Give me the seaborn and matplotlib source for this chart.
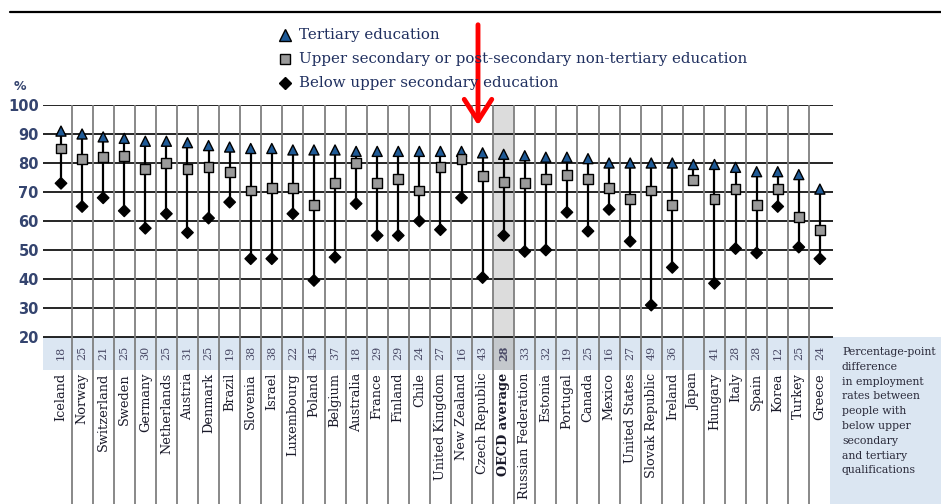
import numpy as np
import pandas as pd
import matplotlib.pyplot as plt
import seaborn as sns
from matplotlib.lines import Line2D
from matplotlib.patches import Rectangle

# Данные: уровень занятости по уровню образования (%)
countries = ['Iceland', 'Norway', 'Switzerland', 'Sweden', 'Germany', 'Netherlands',
             'Austria', 'Denmark', 'Brazil', 'Slovenia', 'Israel', 'Luxembourg',
             'Poland', 'Belgium', 'Australia', 'France', 'Finland', 'Chile',
             'United Kingdom', 'New Zealand', 'Czech Republic', 'OECD average',
             'Russian Federation', 'Estonia', 'Portugal', 'Canada', 'Mexico',
             'United States', 'Slovak Republic', 'Ireland', 'Japan', 'Hungary',
             'Italy', 'Spain', 'Korea', 'Turkey', 'Greece']
tertiary = [91, 90, 89, 88.5, 87.5, 87.5, 87, 86, 85.5, 85, 85, 84.5, 84.5, 84.5, 84,
            84, 84, 84, 84, 84, 83.5, 83, 82.5, 82, 82, 81.5, 80, 80, 80, 80, 79.5,
            79.5, 78.5, 77, 77, 76, 71]
upper_sec = [85, 81.5, 82, 82.5, 78, 80, 78, 78.5, 77, 70.5, 71.5, 71.5, 65.5, 73, 80,
             73, 74.5, 70.5, 78.5, 81.5, 75.5, 73.5, 73, 74.5, 76, 74.5, 71.5, 67.5,
             70.5, 65.5, 74, 67.5, 71, 65.5, 71, 61.5, 57]
below_sec = [73, 65, 68, 63.5, 57.5, 62.5, 56, 61, 66.5, 47, 47, 62.5, 39.5, 47.5, 66,
             55, 55, 60, 57, 68, 40.5, 55, 49.5, 50, 63, 56.5, 64, 53, 31, 44, np.nan,
             38.5, 50.5, 49, 65, 51, 47]
gap_labels = ['18', '25', '21', '25', '30', '25', '31', '25', '19', '38', '38', '22',
              '45', '37', '18', '29', '29', '24', '27', '16', '43', '28', '33', '32',
              '19', '25', '16', '27', '49', '36', '', '41', '28', '28', '12', '25', '24']
series_names = ['Tertiary education',
                'Upper secondary or post-secondary non-tertiary education',
                'Below upper secondary education']
box_text = ('Percentage-point\ndifference\nin employment\nrates between\npeople with\n'
            'below upper\nsecondary\nand tertiary\nqualifications')

W, H = 941, 504
def fx(px):
    return px / W
def fy(py):
    return 1 - py / H

sns.set_style('white')
plt.rcParams['font.family'] = ['DejaVu Serif', 'Liberation Serif']

n = len(countries)
pos = np.arange(n)
oecd = countries.index('OECD average')

df = pd.DataFrame({'pos': pos, 'country': countries, 'Tertiary': tertiary,
                   'Upper': upper_sec, 'Below': below_sec})
long_df = df.melt(id_vars=['pos', 'country'], value_vars=['Tertiary', 'Upper', 'Below'],
                  var_name='level', value_name='value').dropna()

fig = plt.figure(figsize=(W / 100, H / 100), dpi=100)
# оси занимают всю высоту под легендой: 100 -> y=105px, 20 -> y=337px
ax = fig.add_axes([fx(43), 0, (833 - 43) / W, (H - 105) / H])
ax.patch.set_alpha(0)
x0, x1 = (43 - 61) / 21.08, (833 - 61) / 21.08
ppu = (337 - 105) / 80
ymin = 100 - (H - 105) / ppu
ax.set_xlim(x0, x1)
ax.set_ylim(ymin, 100)
sns.despine(ax=ax, left=True, bottom=True)

band_col = '#dbe6f2'
band_lo = 20 - (370 - 337) / ppu
ax.add_patch(Rectangle((x0, band_lo), 36.5 - x0, 20 - band_lo, color=band_col, lw=0, zorder=0))
fig.add_artist(Rectangle((fx(830), 0), 1 - fx(830), fy(337), color=band_col, lw=0,
                         transform=fig.transFigure, zorder=0))
ax.add_patch(Rectangle((oecd - 0.5, 20), 1, 80, color='#dcdcdc', lw=0, zorder=0))
ax.add_patch(Rectangle((oecd - 0.5, band_lo), 1, 20 - band_lo, color='#c4c8cc', lw=0, zorder=0))

ax.hlines(np.arange(20, 101, 10), x0, x1, color='black', lw=1.2, zorder=1)
ax.vlines(np.arange(0.5, n - 1), ymin, 100, color='#7f7f7f', lw=1.3, zorder=1)

lo = np.nanmin(df[['Tertiary', 'Upper', 'Below']].values, axis=1)
hi = np.nanmax(df[['Tertiary', 'Upper', 'Below']].values, axis=1)
ax.vlines(pos, lo, hi, color='black', lw=1.6, zorder=2)

sns.scatterplot(data=long_df, x='pos', y='value', hue='level', style='level', size='level',
                hue_order=['Tertiary', 'Upper', 'Below'],
                palette={'Tertiary': '#1f5a96', 'Upper': '#9a9a9a', 'Below': 'black'},
                markers={'Tertiary': '^', 'Upper': 's', 'Below': 'D'},
                sizes={'Tertiary': 52, 'Upper': 50, 'Below': 34},
                edgecolor='black', linewidth=1.0, legend=False, ax=ax, zorder=3)

ax.set_yticks(np.arange(20, 101, 10))
ax.set_yticklabels([str(v) for v in range(20, 101, 10)], family='DejaVu Sans',
                   fontweight='bold', fontsize=10.5, color='#34446f')
ax.tick_params(axis='y', length=0, pad=3)
ax.set_xticks([])
ax.set_xlabel('')
ax.set_ylabel('')
fig.text(fx(20), fy(86), '%', ha='center', va='center', family='DejaVu Sans',
         fontweight='bold', fontsize=9, color='#34446f')

band_mid = 20 - (353 - 337) / ppu
lab_top = 20 - (373 - 337) / ppu
for i, (c, g) in enumerate(zip(countries, gap_labels)):
    w = 'bold' if i == oecd else 'normal'
    ax.text(i, band_mid, g, rotation=90, ha='center', va='center', fontsize=8,
            color='#4a4a66', fontweight=w)
    ax.text(i, lab_top, c, rotation=90, ha='center', va='top', fontsize=9.3,
            color='#1a1a2a', fontweight=w)

fig.text(fx(842), fy(347), box_text, ha='left', va='top', fontsize=7.8,
         color='#2a2a3a', linespacing=1.6)

# легенда
marker_kw = [dict(marker='^', color='#1f5a96', mec='black', ms=8),
             dict(marker='s', color='#9a9a9a', mec='black', ms=7),
             dict(marker='D', color='black', mec='black', ms=6)]
for k, (name, mk) in enumerate(zip(series_names, marker_kw)):
    yy = fy(35 + 24 * k)
    fig.add_artist(Line2D([fx(285)], [yy], lw=0, transform=fig.transFigure, mew=1, **mk))
    fig.text(fx(299), yy, name, ha='left', va='center', fontsize=10.8, color='#1f2f5f')

fig.add_artist(Line2D([fx(10), 1], [fy(12), fy(12)], color='black', lw=1.6,
                      transform=fig.transFigure))
ax.annotate('', xy=(fx(478), fy(128)), xytext=(fx(478), fy(22)),
            xycoords='figure fraction', textcoords='figure fraction',
            arrowprops=dict(arrowstyle='->,head_length=0.7,head_width=0.45',
                            color='red', lw=3.5, mutation_scale=22))

fig.savefig('out.png', dpi=100)
